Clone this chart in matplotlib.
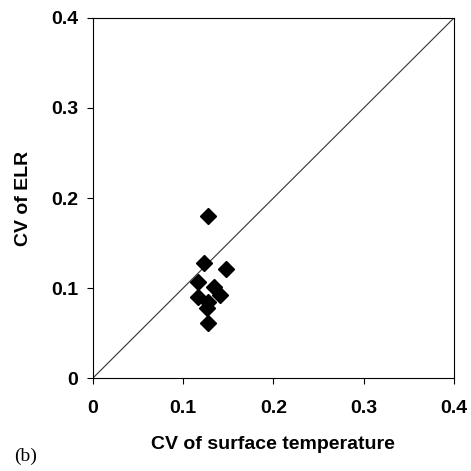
import matplotlib
matplotlib.use('Agg')
import matplotlib.pyplot as plt

plt.rcParams['font.family'] = ['Liberation Sans', 'DejaVu Sans']

# CV values
cv_surface_temp = [0.128, 0.123, 0.148, 0.117, 0.134, 0.141, 0.117, 0.128, 0.126, 0.128]
cv_elr = [0.180, 0.128, 0.121, 0.107, 0.101, 0.092, 0.090, 0.085, 0.078, 0.061]
ticks = [0, 0.1, 0.2, 0.3, 0.4]
tick_labels = ['0', '0.1', '0.2', '0.3', '0.4']

fig = plt.figure(figsize=(4.71, 4.71), dpi=100)
ax = fig.add_axes([0.197, 0.197, 0.767, 0.765])

ax.plot([0, 0.4], [0, 0.4], color='#333333', lw=0.8)
ax.plot(cv_surface_temp, cv_elr, 'D', color='black', markersize=8, clip_on=False)

ax.set_xlim(0, 0.4)
ax.set_ylim(0, 0.4)
ax.set_xticks(ticks)
ax.set_yticks(ticks)
ax.set_xticklabels(tick_labels, fontsize=14, fontweight='bold')
ax.set_yticklabels(tick_labels, fontsize=14, fontweight='bold')
ax.tick_params(direction='out', length=4.5, width=0.8)
ax.tick_params(axis='x', pad=11)
ax.tick_params(axis='y', pad=6)
for s in ax.spines.values():
    s.set_linewidth(0.8)

ax.set_xlabel('CV of surface temperature', fontsize=14, fontweight='bold', labelpad=14)
ax.set_ylabel('CV of ELR', fontsize=14, fontweight='bold', labelpad=14)
fig.text(0.03, 0.022, '(b)', fontsize=14, family='Liberation Serif')

fig.savefig('out.png', dpi=100)
